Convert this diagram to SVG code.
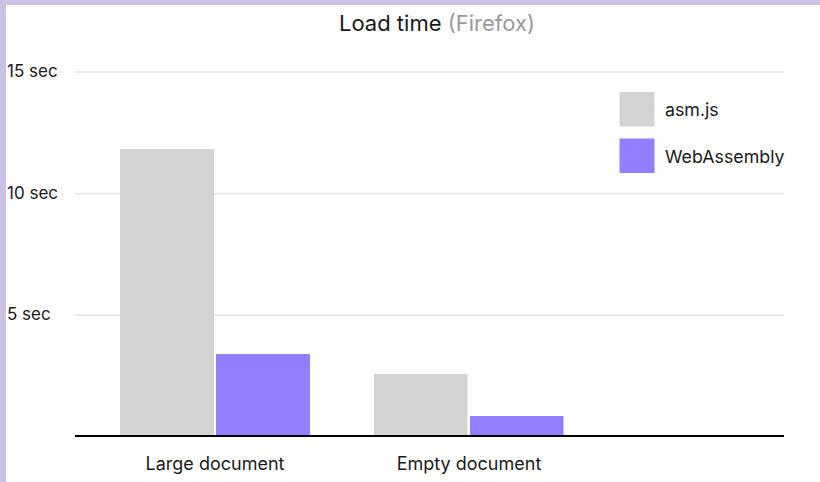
<svg xmlns="http://www.w3.org/2000/svg" width="820" height="482" viewBox="0 0 820 482">
<style>
text{font-family:Inter,"Liberation Sans",sans-serif;fill:#1a1a1a}
.ax{font-size:17px}
.cat{font-size:18px;text-anchor:middle}
.lg{font-size:17.8px}
.grid{stroke:#e4e4e4;stroke-width:1.5}
.asm{fill:#d3d3d3}
.wasm{fill:#927eff}
</style>
<rect x="0" y="0" width="820" height="482" fill="#ffffff"/>
<rect x="0" y="0" width="820" height="5" fill="#cbc2e6"/>
<rect x="0" y="0" width="6" height="482" fill="#cbc2e6"/>
<g id="title">
<text x="339" y="31" style="font-size:22px">Load time <tspan style="fill:#999999">(Firefox)</tspan></text>
</g>
<g id="grid">
<line class="grid" x1="75" y1="72" x2="784" y2="72"/>
<line class="grid" x1="75" y1="193.7" x2="784" y2="193.7"/>
<line class="grid" x1="75" y1="315.3" x2="784" y2="315.3"/>
<text class="ax" x="7" y="77">15 sec</text>
<text class="ax" x="7" y="199">10 sec</text>
<text class="ax" x="7" y="320">5 sec</text>
</g>
<g id="large-document">
<rect class="asm" x="120" y="149" width="94" height="287"/>
<rect class="wasm" x="216" y="354" width="94" height="82"/>
<text class="cat" x="215" y="470">Large document</text>
</g>
<g id="empty-document">
<rect class="asm" x="374" y="374" width="93.5" height="62"/>
<rect class="wasm" x="470" y="416" width="93.5" height="20"/>
<text class="cat" x="469" y="470">Empty document</text>
</g>
<g id="axis">
<line x1="75" y1="436" x2="784" y2="436" stroke="#000" stroke-width="2.2"/>
</g>
<g id="legend">
<rect class="asm" x="619.5" y="92" width="35" height="34.5"/>
<text class="lg" x="665" y="116">asm.js</text>
<rect class="wasm" x="619.5" y="138.5" width="35" height="34.5"/>
<text class="lg" x="665" y="163">WebAssembly</text>
</g>
</svg>
